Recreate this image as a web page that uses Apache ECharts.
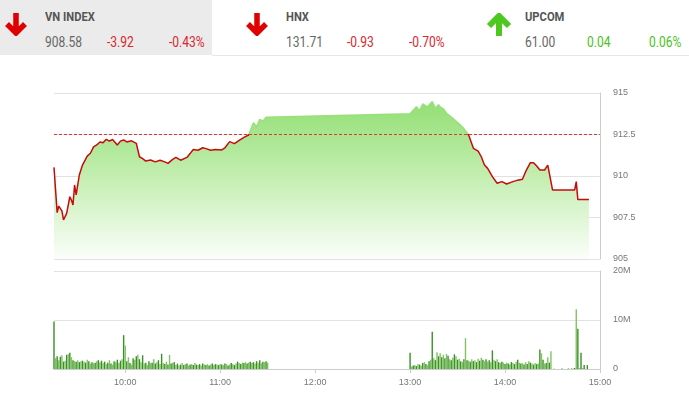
<!DOCTYPE html>
<html lang="vi">
<head>
    <meta charset="UTF-8">
    <script type="text/javascript" src="https://cdn.jsdelivr.net/npm/echarts@6/dist/echarts.min.js"></script>
    <style>
        body { margin: 0; background: #fff; }
        .wrap { position: relative; width: 689px; height: 397px; overflow: hidden; }
        .panel { position: absolute; left: 0; top: 0; width: 212px; height: 55px; background: #ebebeb; }
        .rule { position: absolute; left: 212px; top: 55px; width: 477px; height: 1px; background: #e6e6e6; }
        .t { position: absolute; white-space: nowrap; font-family: 'Roboto', sans-serif;
             transform: scaleX(0.86); transform-origin: left top; }
        .name { font-size: 13px; font-weight: bold; color: #555; line-height: 13px; }
        .num { font-size: 14px; color: #666; line-height: 14px; }
        .red { color: #d9262e; }
        .green { color: #4cbf22; }
        .arrow { position: absolute; }
        #chart { position: absolute; left: 0; top: 0; width: 689px; height: 397px; }
    </style>
</head>

<body>
<div class="wrap">
    <div class="panel"></div>
    <div class="rule"></div>

    <svg class="arrow" style="left:5px;top:13px" width="22" height="23" viewBox="0 0 22 23">
        <path d="M11 0 V20 M2 11 L11 20 L20 11" fill="none" stroke="#e00000" stroke-width="5.5"/>
    </svg>
    <div class="t name" style="left:45px;top:10px">VN INDEX</div>
    <div class="t num" style="left:45px;top:35px">908.58</div>
    <div class="t num red" style="left:107px;top:35px">-3.92</div>
    <div class="t num red" style="left:169px;top:35px">-0.43%</div>

    <svg class="arrow" style="left:246px;top:13px" width="22" height="23" viewBox="0 0 22 23">
        <path d="M11 0 V20 M2 11 L11 20 L20 11" fill="none" stroke="#e00000" stroke-width="5.5"/>
    </svg>
    <div class="t name" style="left:286px;top:10px">HNX</div>
    <div class="t num" style="left:286px;top:35px">131.71</div>
    <div class="t num red" style="left:347px;top:35px">-0.93</div>
    <div class="t num red" style="left:409px;top:35px">-0.70%</div>

    <svg class="arrow" style="left:486px;top:13px" width="26" height="23" viewBox="0 0 26 23">
        <path d="M13 23 V3 M3 13 L13 3 L23 13" fill="none" stroke="#4cc81e" stroke-width="6"/>
    </svg>
    <div class="t name" style="left:525px;top:10px">UPCOM</div>
    <div class="t num" style="left:525px;top:35px">61.00</div>
    <div class="t num green" style="left:587px;top:35px">0.04</div>
    <div class="t num green" style="left:649px;top:35px">0.06%</div>

    <div id="chart"></div>
</div>

<script>
    // chỉ số VN-Index theo phút
    var priceTimes = [
        '09:15','09:17','09:18','09:20','09:21','09:23','09:25','09:26','09:27','09:28',
        '09:29','09:31','09:33','09:36','09:38','09:40','09:42','09:44','09:46','09:48',
        '09:50','09:52','09:55','09:57','09:59','10:01','10:04','10:07','10:09','10:11',
        '10:13','10:16','10:19','10:22','10:25','10:27','10:30','10:32','10:35','10:39',
        '10:41','10:43','10:46','10:49','10:51','10:54','10:57','11:01','11:03','11:06',
        '11:09','11:12','11:15','11:18','11:21','11:23','11:25','11:27','11:29','11:30',
        '13:00','13:04','13:06','13:08','13:11','13:14','13:16','13:18','13:19','13:21',
        '13:23','13:27','13:33','13:37','13:40','13:41','13:43','13:45','13:47','13:48',
        '13:49','13:52','13:55','13:58','14:01','14:05','14:08','14:09','14:11','14:13',
        '14:16','14:18','14:20','14:22','14:25','14:27','14:30','14:44','14:45','14:46',
        '14:53'
    ];
    var priceValues = [
        910.52, 907.79, 908.19, 907.90, 907.35, 907.75, 908.75, 908.55, 908.25, 909.46,
        908.86, 910.06, 910.66, 911.20, 911.37, 911.75, 911.87, 912.05, 912.00, 912.21,
        912.10, 912.20, 911.87, 912.10, 912.17, 912.05, 912.12, 911.97, 911.16, 911.05,
        910.90, 910.96, 910.85, 910.95, 910.85, 910.76, 911.00, 911.12, 910.95, 911.12,
        911.35, 911.60, 911.55, 911.70, 911.65, 911.55, 911.60, 911.57, 911.70, 912.07,
        911.95, 912.15, 912.33, 912.47, 913.21, 912.95, 913.41, 913.30, 913.54, 913.55,
        913.75, 914.17, 913.95, 914.34, 914.17, 914.48, 914.08, 914.30, 914.17, 914.05,
        913.78, 913.47, 912.97, 912.47, 911.67, 911.77, 911.50, 911.16, 910.66, 910.75,
        910.46, 909.96, 909.56, 909.66, 909.52, 909.66, 909.75, 909.86, 909.80, 910.26,
        910.80, 910.80, 910.60, 910.36, 910.36, 910.66, 909.16, 909.16, 909.66, 908.58,
        908.58
    ];
    var refPrice = 912.5;

    // khối lượng (triệu cp) mỗi phút
    var amVolStart = '09:15';
    var amVol = [
        9.7, 2.2, 2.6, 1.8, 2.5, 2.8, 1.5, 1.7, 2.9, 3.0, 3.3, 2.4, 1.8, 1.6, 1.5,
        1.8, 1.4, 1.6, 1.7, 1.5, 1.3, 1.9, 1.6, 1.1, 1.4, 1.2, 1.3, 1.6, 1.8, 1.4,
        1.7, 1.2, 1.5, 1.0, 1.3, 1.8, 1.1, 0.9, 1.6, 1.4, 1.9, 1.2, 1.7, 2.0, 6.9,
        4.8, 1.6, 2.4, 1.2, 0.9, 2.2, 1.9, 2.6, 2.9, 2.0, 1.4, 2.8, 1.1, 1.3, 0.8,
        1.6, 1.2, 1.3, 2.0, 1.1, 1.4, 1.8, 1.0, 3.1, 1.2, 1.0, 1.5, 0.9, 2.9, 1.1,
        1.3, 1.4, 0.8, 1.1, 0.7, 0.9, 1.2, 0.8, 1.0, 1.1, 0.7, 0.9, 1.0, 0.8, 1.2,
        0.9, 0.8, 1.0, 0.7, 1.1, 0.9, 0.8, 1.0, 0.7, 0.9, 1.1, 0.8, 1.0, 0.9, 0.8,
        1.0, 0.9, 0.8, 1.1, 1.0, 0.7, 0.9, 1.2, 1.0, 0.8, 1.1, 1.5, 1.2, 1.0, 1.3,
        1.2, 1.4, 1.1, 1.3, 1.5, 1.2, 1.4, 1.1, 1.6, 1.3, 1.8, 1.2, 1.5, 1.4, 1.6, 1.3
    ];
    var pmVolStart = '13:00';
    var pmVol = [
        3.3, 0.5, 0.7, 0.8, 0.6, 1.0, 0.9, 0.7, 1.2, 1.4, 1.0, 0.8, 1.6, 1.9, 7.6,
        2.2, 1.8, 3.4, 2.6, 3.2, 2.4, 2.9, 2.2, 3.1, 2.7, 2.0, 1.8, 2.3, 3.0, 2.6,
        1.9, 2.1, 1.6, 1.4, 2.0, 6.3, 1.8, 1.7, 1.5, 2.0, 1.6, 1.8, 1.4, 2.1, 1.7,
        2.3, 1.9, 1.6, 2.0, 1.5, 1.8, 1.4, 3.8, 1.9, 1.6, 2.0, 1.4, 1.2, 1.5, 1.3,
        1.0, 1.3, 1.1, 0.9, 1.4, 1.2, 1.0, 1.5, 1.9, 1.3, 1.1, 1.2, 0.9, 1.4, 1.0,
        1.6, 1.3, 1.1, 0.9, 1.2, 1.0, 1.1, 4.0, 3.2, 1.9, 1.1, 1.2, 2.4, 1.3, 3.6,
        0, 0.1, 0, 0, 0, 0, 0.1, 0, 0, 0, 0.1, 0, 0.1, 0.1, 0.2,
        12.2, 8.2, 0.2, 3.3, 0.2, 0.8, 0, 0.8
    ];

    var timeTicks = ['10:00', '11:00', '12:00', '13:00', '14:00', '15:00'];
    var priceTicks = [905, 907.5, 910, 912.5, 915];

    function toMin(s) {
        var p = s.split(':');
        return (+p[0]) * 60 + (+p[1]);
    }
    function toLabel(m) {
        var h = Math.floor(m / 60), mm = m % 60;
        return (h < 10 ? '0' : '') + h + ':' + (mm < 10 ? '0' : '') + mm;
    }

    // trục thời gian: mỗi phút một ô, 09:15 -> 15:00
    var minutes = [];
    for (var m = toMin('09:15'); m <= toMin('15:00'); m++) minutes.push(toLabel(m));

    var priceData = priceTimes.map(function (t, i) { return [t, priceValues[i]]; });
    var volData = [];
    amVol.forEach(function (v, i) { volData.push([toLabel(toMin(amVolStart) + i), v]); });
    pmVol.forEach(function (v, i) { volData.push([toLabel(toMin(pmVolStart) + i), v]); });

    var showTick = function (idx, val) { return timeTicks.indexOf(val) >= 0; };
    var labelFont = { color: '#777', fontSize: 9, fontFamily: 'Liberation Sans, Arial, sans-serif' };

    var chart = echarts.init(document.getElementById('chart'));

    var option = {
        animation: false,
        grid: [
            { left: 54, right: 89, top: 93, height: 166 },
            { left: 54, right: 89, top: 271, height: 98 }
        ],
        xAxis: [{
            type: 'category', gridIndex: 0, data: minutes, boundaryGap: false,
            axisLine: { show: false }, axisTick: { show: false },
            axisLabel: { show: false }, splitLine: { show: false }
        }, {
            type: 'category', gridIndex: 1, data: minutes, boundaryGap: false,
            axisLine: { lineStyle: { color: '#ccc' } },
            axisTick: { interval: showTick, length: 4, lineStyle: { color: '#ccc' } },
            axisLabel: Object.assign({ interval: showTick, margin: 9 }, labelFont),
            splitLine: { show: false }
        }],
        yAxis: [{
            type: 'value', gridIndex: 0, position: 'right',
            min: priceTicks[0], max: priceTicks[priceTicks.length - 1], interval: 2.5,
            axisLine: { show: true, lineStyle: { color: '#ccc' } },
            axisTick: { show: false },
            axisLabel: Object.assign({ margin: 13 }, labelFont),
            splitLine: { lineStyle: { color: '#e2e2e2' } }
        }, {
            type: 'value', gridIndex: 1, position: 'right',
            min: 0, max: 20, interval: 10,
            axisLine: { show: true, lineStyle: { color: '#ccc' } },
            axisTick: { show: false },
            axisLabel: Object.assign({
                margin: 13,
                formatter: function (v) { return v === 0 ? '0' : v + 'M'; }
            }, labelFont),
            splitLine: { lineStyle: { color: '#e2e2e2' } }
        }],
        visualMap: {
            show: false, type: 'piecewise', seriesIndex: 0, dimension: 1,
            pieces: [
                { gte: 890, lt: refPrice, color: '#c80a0a' },
                { gte: refPrice, lte: 930, color: '#98e07c' }
            ]
        },
        graphic: [{
            type: 'text', left: 62, top: 246,
            style: {
                text: '©2020 Chứng khoán Tân Việt (TVSI)',
                fill: '#555', fontSize: 9.5,
                fontFamily: 'Liberation Sans, Arial, sans-serif'
            }
        }],
        series: [{
            type: 'line',
            xAxisIndex: 0, yAxisIndex: 0,
            data: priceData,
            symbol: 'none',
            lineStyle: { width: 1.5 },
            areaStyle: {
                origin: 'start',
                opacity: 1,
                color: new echarts.graphic.LinearGradient(0, 0, 0, 1, [
                    { offset: 0, color: '#92df74' },
                    { offset: 0.5, color: '#c6efb4' },
                    { offset: 1, color: '#fbfefa' }
                ])
            },
            markLine: {
                silent: true, symbol: 'none',
                label: { show: false },
                lineStyle: { color: '#d43a3a', type: [3, 2], width: 1 },
                data: [{ yAxis: refPrice }]
            }
        }, {
            type: 'bar',
            xAxisIndex: 1, yAxisIndex: 1,
            data: volData,
            barWidth: 1.4,
            itemStyle: {
                color: function (p) { return p.dataIndex % 2 ? '#80c460' : '#3a8f28'; }
            }
        }]
    };

    chart.setOption(option);
</script>
</body>
</html>
